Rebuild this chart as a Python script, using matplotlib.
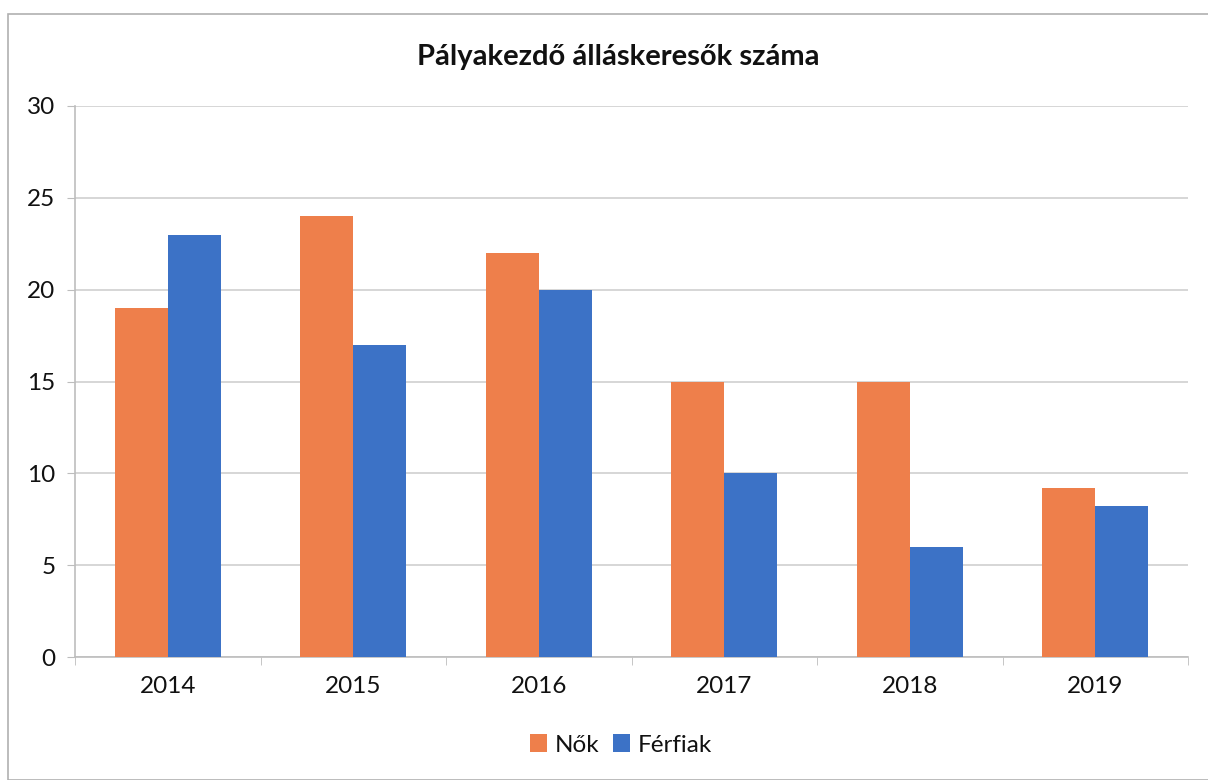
import matplotlib
matplotlib.use("Agg")
import matplotlib.pyplot as plt
import numpy as np
from matplotlib.patches import Rectangle

years = ["2014", "2015", "2016", "2017", "2018", "2019"]
nok = [19, 24, 22, 15, 15, 9.2]
ferfiak = [23, 17, 20, 10, 6, 8.2]
yticks = [0, 5, 10, 15, 20, 25, 30]

plt.rcParams['font.family'] = ['Lato', 'DejaVu Sans']

fig = plt.figure(figsize=(12.08, 7.8), dpi=100)
ax = fig.add_axes([75/1208, 1-657/780, (1188-75)/1208, (657-106)/780])

x = np.arange(len(years))
w = 0.286
orange = "#EE7F4B"
blue = "#3C72C6"
ax.bar(x - w/2, nok, w, color=orange, label="Nők", zorder=3)
ax.bar(x + w/2, ferfiak, w, color=blue, label="Férfiak", zorder=3)

ax.set_xlim(-0.5, len(years) - 0.5)
ax.set_ylim(0, 30)
ax.set_yticks(yticks)
ax.set_xticks(x)
ax.set_xticklabels(years)
ax.set_xticks(np.arange(-0.5, len(years)), minor=True)
ax.yaxis.grid(True, color="#cfcfcf", linewidth=1.2, zorder=0)
ax.set_axisbelow(True)

for s in ["top", "right"]:
    ax.spines[s].set_visible(False)
ax.spines["left"].set_color("#bdbdbd")
ax.spines["bottom"].set_color("#bdbdbd")
ax.spines["left"].set_linewidth(1.2)
ax.spines["bottom"].set_linewidth(1.2)

ax.tick_params(axis="y", length=6, color="#bdbdbd", labelsize=17.5, pad=8, labelcolor="#111111")
ax.tick_params(axis="x", which="major", length=0, labelsize=17.5, pad=14, labelcolor="#111111")
ax.tick_params(axis="x", which="minor", length=6, color="#bdbdbd")

fig.text(618/1208, 1-57/780, "Pályakezdő álláskeresők száma", ha="center", va="center",
         fontsize=21, fontweight="bold", color="#111111")

leg = fig.legend(loc="center", bbox_to_anchor=(621/1208, 1-745/780), ncol=2, frameon=False,
                 fontsize=17.5, handlelength=0.7, handleheight=0.7, handletextpad=0.3,
                 columnspacing=0.6)
for t in leg.get_texts():
    t.set_color("#111111")

fig.add_artist(Rectangle((8/1208, 0.0), 1.2, 1 - 14/780, transform=fig.transFigure,
                         fill=False, edgecolor="#b0b0b0", linewidth=1.2))

fig.savefig("out.png", dpi=100)
